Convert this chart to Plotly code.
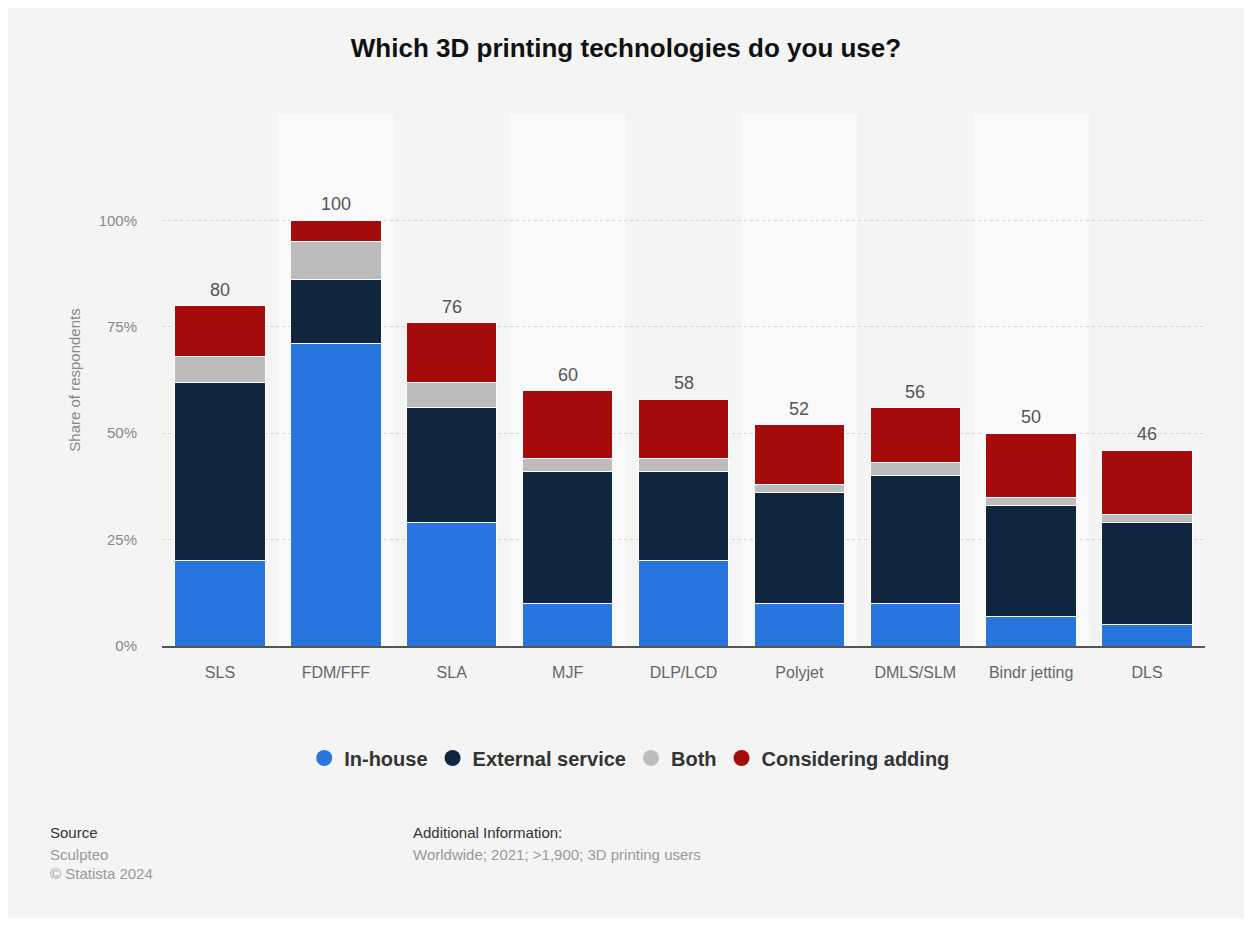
import plotly.graph_objects as go

categories = ["SLS", "FDM/FFF", "SLA", "MJF", "DLP/LCD", "Polyjet", "DMLS/SLM", "Bindr jetting", "DLS"]
in_house = [20, 71, 29, 10, 20, 10, 10, 7, 5]
external_service = [42, 15, 27, 31, 21, 26, 30, 26, 24]
both = [6, 9, 6, 3, 3, 2, 3, 2, 2]
considering_adding = [12, 5, 14, 16, 14, 14, 13, 15, 15]
totals = [80, 100, 76, 60, 58, 52, 56, 50, 46]

y_ticks = [0, 25, 50, 75, 100, 125]
y_tick_labels = ["0%", "25%", "50%", "75%", "100%", ""]

series = [
    ("In-house", in_house, "#2876dd"),
    ("External service", external_service, "#10263e"),
    ("Both", both, "#bcbcbc"),
    ("Considering adding", considering_adding, "#a60b0b"),
]

FONT = "Liberation Sans, Arial, sans-serif"
W, H = 1236, 910

fig = go.Figure()
for name, vals, color in series:
    fig.add_trace(go.Bar(
        x=categories, y=vals, name=name, showlegend=False,
        marker=dict(color=color, line=dict(color="white", width=1)),
        hoverinfo="x+y+name",
    ))
# legend entries with circle markers
for name, vals, color in series:
    fig.add_trace(go.Scatter(
        x=[None], y=[None], mode="markers", name="<b>" + name + "</b>",
        marker=dict(color=color, size=20, symbol="circle"),
        showlegend=True,
    ))

# alternating column bands
shapes = []
for i in range(len(categories)):
    if i % 2 == 1:
        shapes.append(dict(type="rect", xref="x", yref="paper", x0=i - 0.5, x1=i + 0.5,
                           y0=0, y1=1, fillcolor="#f9f9f9", line=dict(width=0), layer="below"))

annotations = []
for cat, tot in zip(categories, totals):
    annotations.append(dict(x=cat, y=tot, xref="x", yref="y", text=str(tot), showarrow=False,
                            yanchor="bottom", yshift=4,
                            font=dict(size=18, color="#555555", family=FONT)))

footer = [
    ("Source", -0.1093, -0.3515, "#333333"),
    ("Sculpteo", -0.1093, -0.391, "#999999"),
    ("© Statista 2024", -0.1093, -0.4267, "#999999"),
    ("Additional Information:", 0.2387, -0.3515, "#333333"),
    ("Worldwide; 2021; >1,900; 3D printing users", 0.2387, -0.391, "#999999"),
]
for text, fx, fy, col in footer:
    annotations.append(dict(text=text, x=fx, y=fy, xref="paper", yref="paper", xanchor="left",
                            yanchor="middle", showarrow=False, font=dict(size=15, color=col, family=FONT)))

fig.update_layout(
    width=W, height=H,
    barmode="stack", bargap=0.22,
    paper_bgcolor="#f4f4f4", plot_bgcolor="#f4f4f4",
    margin=dict(l=154, r=39, t=106, b=272, autoexpand=False),
    font=dict(family=FONT, color="#666666"),
    title=dict(text="<b>Which 3D printing technologies do you use?</b>", x=0.5, xanchor="center",
               y=1 - 40 / H, yanchor="middle", font=dict(size=26, color="#111111", family=FONT)),
    legend=dict(orientation="h", xref="container", x=0.503, xanchor="center", y=-0.2105, yanchor="middle",
                font=dict(size=20, color="#333333", family=FONT),
                bgcolor="rgba(0,0,0,0)", traceorder="normal"),
    shapes=shapes,
    annotations=annotations,
    hovermode="closest",
)
fig.update_xaxes(
    showgrid=False, showline=True, linecolor="#555555", linewidth=1.5,
    tickfont=dict(size=16, color="#666666", family=FONT), ticks="", ticklabelstandoff=11,
    range=[-0.5, len(categories) - 0.5],
)
fig.update_yaxes(
    range=[0, 125], tickvals=y_ticks, ticktext=y_tick_labels,
    showgrid=True, gridcolor="#d2d2d2", griddash="dot", gridwidth=1, zeroline=False,
    tickfont=dict(size=15, color="#888888", family=FONT), ticks="", ticklabelstandoff=24,
    title=dict(text="Share of respondents", font=dict(size=15, color="#888888", family=FONT), standoff=14),
)

fig.write_html("out.html")
